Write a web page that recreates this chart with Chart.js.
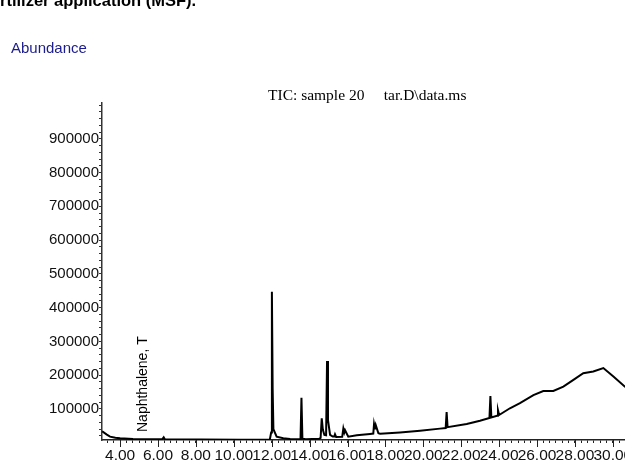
<!DOCTYPE html>
<html>
<head>
<meta charset="utf-8">
<script src="https://cdn.jsdelivr.net/npm/chart.js@4.4.0/dist/chart.umd.min.js"></script>
<style>
    html, body { margin: 0; padding: 0; background: #fff; overflow: hidden; width: 625px; height: 460px; }
    #wrap { position: absolute; left: 0; top: 0; width: 700px; height: 460px; }
    .txt { position: absolute; white-space: pre; line-height: 1; }
    #caption { left: -14.7px; top: -9px; font: bold 16.5px "Liberation Sans", Arial, sans-serif; color: #000; }
    #yTitle { left: 11px; top: 39px; font: 15px "Liberation Sans", Arial, sans-serif; color: #1c1c8c; }
    #plotTitle { left: 268px; top: 86px; font: 15.5px "Liberation Serif", "Times New Roman", serif; color: #000; }
</style>
</head>
<body>
<div id="wrap"><canvas id="tic"></canvas></div>
<div class="txt" id="caption">fertilizer application (MSF).</div>
<div class="txt" id="yTitle">Abundance</div>
<div class="txt" id="plotTitle">TIC: sample 20     tar.D\data.ms</div>
<script>
// retention time (min) and abundance
const times = [
    3.05, 3.10, 3.30, 3.47, 3.75, 4.00, 4.68, 5.58, 6.22, 6.30, 6.36, 8.22, 10.33,
    11.90, 11.97, 12.01, 12.05, 12.09, 12.26, 12.61, 12.97,
    13.52, 13.57, 13.62, 13.80, 14.50, 14.58, 14.64, 14.70, 14.78, 14.87, 14.92, 14.97,
    15.08, 15.22, 15.30, 15.34, 15.40, 15.72, 15.78, 15.83, 15.87, 16.04, 16.49,
    17.19, 17.36, 17.40, 17.45, 17.49, 17.63, 17.72, 18.77, 19.83, 20.88,
    21.18, 21.23, 21.28, 22.29, 22.99, 23.49, 23.54, 23.59, 23.89, 23.94, 24.00,
    24.57, 25.10, 25.81, 26.33, 26.86, 27.39, 27.92, 28.44, 28.97, 29.50, 30.03,
    30.64, 31.20, 32.00
];
const abundance = [
    33000, 32000, 24000, 18000, 14500, 13000, 11000, 10000, 10000, 16000, 10000, 9500, 9000,
    9000, 30000, 447000, 160000, 40000, 18000, 13000, 11000,
    10500, 133000, 12000, 10500, 11500, 14000, 72000, 38000, 23000, 22000, 242000, 67000,
    23000, 18000, 18000, 25000, 17000, 17500, 42000, 30000, 37000, 18000, 22000,
    26000, 27000, 55000, 40000, 52000, 28000, 26500, 30500, 35700, 41700,
    43500, 91000, 46000, 55600, 65000, 73000, 138000, 75000, 80000, 96000, 82000,
    102000, 117000, 141000, 153000, 153000, 166000, 186000, 206000, 211000, 221000, 196000,
    166000, 150000, 135000
];

const xMajorTicks = [4, 6, 8, 10, 12, 14, 16, 18, 20, 22, 24, 26, 28, 30, 32, 34];
const yMajorTicks = [100000, 200000, 300000, 400000, 500000, 600000, 700000, 800000, 900000];

const annotation = { time: 5.42, text: "Naphthalene, T" };

const X_MIN = 3.045, X_MAX = 34.6;
const Y_MIN = 8000, Y_MAX = 1006000;

// minor ticks every 1/3 min on x, every 20000 on y
const xTickValues = [];
for (let k = -2; 4 + k / 3 <= X_MAX; k++) xTickValues.push(4 + k / 3);
const yTickValues = [];
for (let v = 20000; v <= Y_MAX; v += 20000) yTickValues.push(v);

const isMajorX = v => Math.abs(v - Math.round(v)) < 1e-6 && xMajorTicks.includes(Math.round(v));

const extras = {
    id: "extras",
    afterDraw(chart) {
        const ctx = chart.ctx;
        const xs = chart.scales.x;
        const bottom = chart.chartArea.bottom;
        ctx.save();
        // longer ticks for labelled times
        ctx.strokeStyle = "#222";
        ctx.lineWidth = 1;
        xMajorTicks.forEach(v => {
            const px = Math.round(xs.getPixelForValue(v)) + 0.5;
            ctx.beginPath();
            ctx.moveTo(px, bottom);
            ctx.lineTo(px, bottom + 7);
            ctx.stroke();
        });
        // peak label
        const ax = xs.getPixelForValue(annotation.time);
        ctx.translate(ax, 432);
        ctx.rotate(-Math.PI / 2);
        ctx.fillStyle = "#000";
        ctx.font = '14px "Liberation Sans", Arial, sans-serif';
        ctx.textAlign = "left";
        ctx.textBaseline = "alphabetic";
        ctx.fillText(annotation.text, 0, 0);
        ctx.restore();
    }
};

new Chart(document.getElementById("tic"), {
    type: "line",
    data: {
        datasets: [{
            data: times.map((t, i) => ({ x: t, y: abundance[i] })),
            borderColor: "#000",
            borderWidth: 2,
            pointRadius: 0,
            tension: 0,
            fill: false
        }]
    },
    options: {
        responsive: true,
        maintainAspectRatio: false,
        animation: false,
        layout: { padding: { top: 103, left: 0, right: 0, bottom: 0 } },
        plugins: { legend: { display: false }, tooltip: { enabled: false }, title: { display: false } },
        scales: {
            x: {
                type: "linear",
                min: X_MIN,
                max: X_MAX,
                afterBuildTicks: scale => { scale.ticks = xTickValues.map(v => ({ value: v })); },
                afterFit: scale => { scale.height = 20; },
                border: { display: true, color: "#222", width: 1.5 },
                grid: { display: true, drawOnChartArea: false, tickLength: 3, tickColor: "#222" },
                ticks: {
                    autoSkip: false,
                    maxRotation: 0,
                    padding: 3,
                    color: "#111",
                    font: { family: '"Liberation Sans", Arial, sans-serif', size: 15.5 },
                    callback: v => isMajorX(v) ? Math.round(v).toFixed(2) : ""
                }
            },
            y: {
                min: Y_MIN,
                max: Y_MAX,
                afterBuildTicks: scale => { scale.ticks = yTickValues.map(v => ({ value: v })); },
                afterFit: scale => { scale.width = 102; },
                border: { display: true, color: "#333", width: 1.5 },
                grid: { display: true, drawOnChartArea: false, tickLength: 3, tickColor: "#333" },
                ticks: {
                    autoSkip: false,
                    padding: 0,
                    color: "#111",
                    font: { family: '"Liberation Sans", Arial, sans-serif', size: 15 },
                    callback: v => yMajorTicks.includes(v) ? String(v) : ""
                }
            }
        }
    },
    plugins: [extras]
});
</script>
</body>
</html>
